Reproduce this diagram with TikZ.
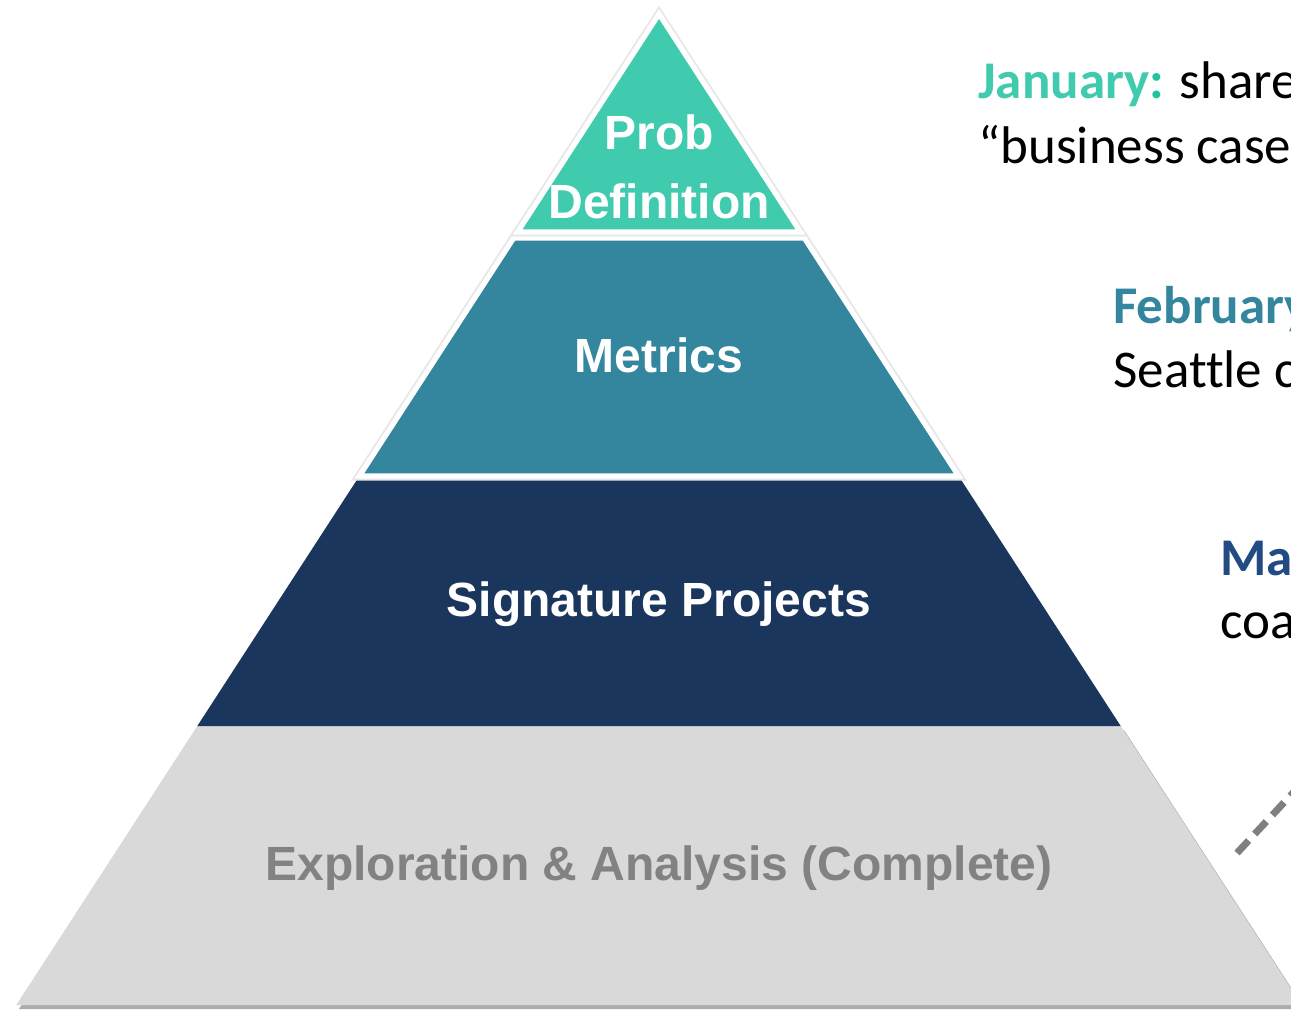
\documentclass[tikz,border=0pt]{standalone}
\usepackage{fontspec}
\setmainfont{Liberation Sans}
\newfontfamily\notefont[Ligatures={NoCommon}]{Carlito}
\definecolor{probcol}{HTML}{41CBAE}
\definecolor{colongreen}{HTML}{1CC59B}
\definecolor{metricscol}{HTML}{33869E}
\definecolor{sigcol}{HTML}{1A365D}
\definecolor{explcol}{HTML}{D9D9D9}
\definecolor{expltext}{HTML}{828282}
\definecolor{marcol}{HTML}{214B82}
\definecolor{dashcol}{HTML}{7F7F7F}
\tikzset{
  halo/.style={draw=black!9, line width=4.5pt},
  rimtier/.style={draw=white, line width=2.6pt},
  tierlabel/.style={text=white, font=\fontsize{24}{34.5}\selectfont\bfseries, inner sep=0pt, anchor=base},
  note/.style={font=\notefont\fontsize{26.5}{32.5}\selectfont, anchor=base west, inner sep=0pt},
}
\begin{document}
\begin{tikzpicture}[x=0.5pt, y=-0.5pt]
\path[use as bounding box, clip] (0,0) rectangle (1291,1009);
\fill[white] (0,0) rectangle (1291,1009);
% bottom tier
\fill[black!32] (19,1009) -- (198,730) -- (1124,730) -- (1305,1009) -- cycle;
\fill[explcol] (16.3,1005) -- (197.3,726) -- (1120.7,726) -- (1301.7,1005) -- cycle;
% signature tier
\fill[sigcol] (197.3,726) -- (358.1,478) -- (959.9,478) -- (1120.7,726) -- cycle;
% metrics tier
\draw[halo] (359.4,476) -- (513.7,238) -- (804.3,238) -- (958.6,476) -- cycle;
\filldraw[rimtier, fill=metricscol] (359.4,476) -- (513.7,238) -- (804.3,238) -- (958.6,476) -- cycle;
% top tier
\draw[halo] (517.6,232) -- (659,14) -- (800.4,232) -- cycle;
\filldraw[rimtier, fill=probcol] (517.6,232) -- (659,14) -- (800.4,232) -- cycle;

\node[tierlabel] (prob) at (659,149) {Prob};
\node[tierlabel] (defn) at (659,218) {Definition};
\node[tierlabel] (metrics) at (659,372) {Metrics};
\node[tierlabel] (sigproj) at (659,616) {Signature Projects};
\node[tierlabel, text=expltext] (explore) at (659,880) {Exploration \& Analysis (Complete)};

\node[note] (jan1) at (978,98) {\textcolor{probcol}{\bfseries January\textcolor{colongreen}{:}} share};
\node[note] (jan2) at (978,163) {“business case};
\node[note] (feb1) at (1113,323) {\textcolor{metricscol}{\bfseries February}};
\node[note] (feb2) at (1113,387) {Seattle c};
\node[note] (mar1) at (1220,575) {\textcolor{marcol}{\bfseries Ma}};
\node[note] (mar2) at (1220,638) {coa};

\coordinate (dashstart) at (1237,853);
\coordinate (dashend) at (1345,737);
\draw[dashcol, line width=3.5pt, dash pattern=on 8.5pt off 4.5pt] (dashstart) -- (dashend);
\end{tikzpicture}
\end{document}
